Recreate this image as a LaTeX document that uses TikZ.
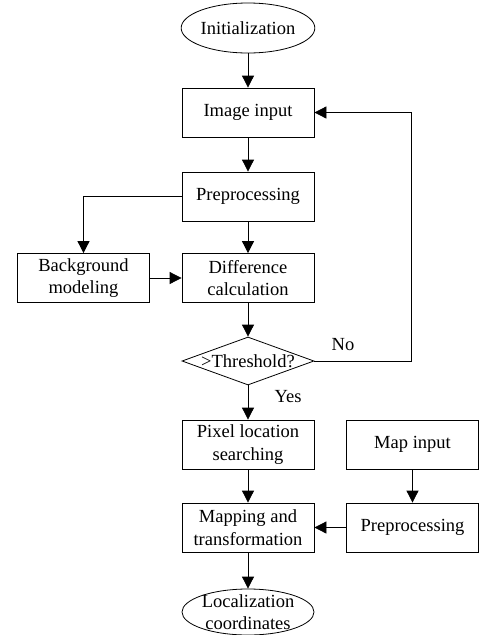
\documentclass[tikz,border=0pt]{standalone}
\usepackage{fontspec}
\setmainfont{Liberation Serif}
\usetikzlibrary{shapes.geometric,arrows.meta}

\begin{document}
\begin{tikzpicture}[x=1pt,y=-1pt,
  font=\fontsize{18.5}{22.5}\selectfont,
  box/.style={draw,rectangle,line width=0.8pt,minimum width=132pt,minimum height=49pt,inner sep=0pt,align=center},
  terminal/.style={draw,ellipse,line width=0.8pt,minimum width=133pt,minimum height=50pt,inner sep=0pt},
  decision/.style={draw,diamond,line width=0.8pt,aspect=2.75,minimum width=132pt,minimum height=48pt,inner sep=0pt},
  flow/.style={line width=0.8pt,-{Triangle[length=12pt,width=12pt]}}]
  \useasboundingbox (0,0) rectangle (479,635);

  % main column
  \node[terminal] (init) at (248,28) {Initialization};
  \node[box] (img) at (248,112.5) {Image input};
  \node[box] (pre) at (248,196.5) {Preprocessing};
  \node[box] (bg) at (83.5,278) {Background\\modeling};
  \node[box] (diff) at (248,278) {Difference\\calculation};
  \node[decision] (thr) at (248,361) {};
  \node (thrtext) at (thr) {>Threshold?};
  \node[box] (pix) at (248,444.5) {Pixel location\\searching};
  \node[box] (mapt) at (248,527.5) {Mapping and\\transformation};
  \node[terminal,minimum width=132pt,minimum height=46pt] (loc) at (248,612) {};
  \node[align=center] (loctext) at (loc) {Localization\\coordinates};

  % map branch
  \node[box] (mapin) at (412.5,444.5) {Map input};
  \node[box] (pre2) at (412.5,527.5) {Preprocessing};

  \node (yes) at (288,397) {Yes};
  \node (no) at (343,345) {No};

  \begin{scope}[flow]
  \draw (init) -- (img);
  \draw (img) -- (pre);
  \draw (pre) -- (diff);
  \draw (pre.west) -| (bg.north);
  \draw (bg) -- (diff);
  \draw (diff) -- (thr);
  \draw (thr) -- (pix);
  \draw (thr.east) -- ++(97,0) |- (img.east);
  \draw (pix) -- (mapt);
  \draw (mapin) -- (pre2);
  \draw (pre2) -- (mapt);
  \draw (mapt) -- (loc);
  \end{scope}
\end{tikzpicture}
\end{document}
